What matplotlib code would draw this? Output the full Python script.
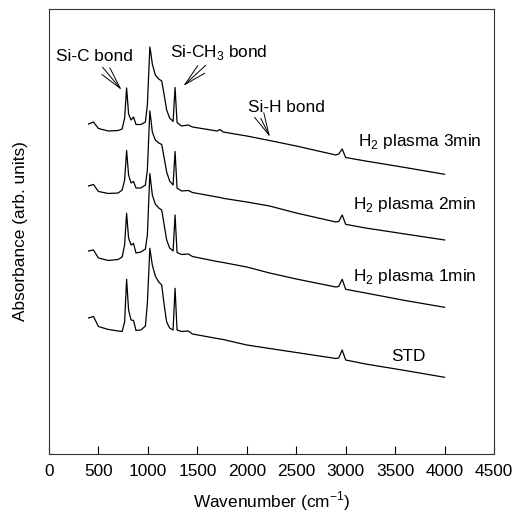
import numpy as np
import matplotlib
matplotlib.use('Agg')
import matplotlib.pyplot as plt

plt.rcParams['font.family'] = ['Liberation Sans', 'DejaVu Sans']
plt.rcParams['mathtext.fontset'] = 'custom'
plt.rcParams['mathtext.rm'] = 'Liberation Sans'

# wavenumber grid (cm-1) shared by all spectra
wavenumber = [400, 450, 500, 600, 700, 740, 765, 785, 805, 830, 855, 880, 930, 975,
              995, 1020, 1030, 1045, 1075, 1110, 1140, 1165, 1190, 1220, 1255, 1275, 1295,
              1340, 1410, 1450, 1700, 1730, 1760, 2000, 2230, 2500, 2900, 2930, 2965,
              3000, 3200, 3600, 4000]

# absorbance (arb. units, curves already offset)
abs_3min = [330, 332, 325.5, 323, 323.5, 325, 336, 366, 340, 334, 337, 329.5, 329.5, 332,
            349, 407, 401, 390, 379, 375, 373, 359, 344, 336, 332.5, 366.5, 331.5,
            328, 329, 327, 323, 324.5, 322, 318, 313.5, 308, 299, 300, 305,
            296.5, 293, 286.5, 279.7]
abs_2min = [268, 269.5, 262.5, 260.5, 261, 264, 274, 303.5, 279, 271, 272.5, 266, 266, 269,
            284, 343, 335, 322, 314, 311, 309.5, 296, 282, 273, 269, 302.5, 266,
            263, 263.5, 261.5, 257, 256.5, 255.7, 252, 248, 241, 232, 232.5, 239,
            229.7, 226, 220, 214]
abs_1min = [203, 204, 196, 193.5, 194.5, 197, 209, 240.7, 216, 209, 210.5, 201, 202, 205,
            219, 280.5, 272, 259, 250, 246, 244, 229, 214, 206, 203, 239, 201.5,
            199.5, 200, 197.5, 192.5, 192, 191.5, 187, 181, 175, 167, 167.5, 174.7,
            164.7, 161, 153.5, 146.7]
abs_std = [136, 137.5, 127.5, 124.5, 123, 122.5, 132, 174.7, 144, 134, 133.5, 123.5, 124, 128,
           151, 205.7, 199, 189, 178, 172, 169, 149, 132, 126, 124, 165.7, 124,
           122.5, 123, 120, 115.5, 115, 114.5, 109, 105.5, 101.5, 95.5, 96, 104,
           94, 90, 83.5, 76.7]

series = [abs_3min, abs_2min, abs_1min, abs_std]
labels = ['H$_2$ plasma 3min', 'H$_2$ plasma 2min', 'H$_2$ plasma 1min', 'STD']
label_pos = [(3125, 312), (3075, 249), (3075, 177), (3465, 97.5)]

fs = 12.4

fig = plt.figure(figsize=(5.15, 5.17), dpi=100)
ax = fig.add_axes([0.0951, 0.1219, 0.8641, 0.8607])

for s in series:
    ax.plot(wavenumber, s, color='black', lw=0.9)

for lab, (x, y) in zip(labels, label_pos):
    ax.text(x, y, lab, fontsize=fs, va='center', ha='left')

arrow = dict(arrowstyle='->,head_length=1.3,head_width=0.3', lw=0.7, color='black',
             shrinkA=0, shrinkB=0)
ax.annotate('Si-C bond', xy=(735, 364), xytext=(455, 397), fontsize=fs,
            ha='center', va='center', arrowprops=arrow)
ax.annotate('Si-CH$_3$ bond', xy=(1358, 368), xytext=(1720, 401), fontsize=fs,
            ha='center', va='center', arrowprops=arrow)
ax.annotate('Si-H bond', xy=(2235, 317), xytext=(2400, 346), fontsize=fs,
            ha='center', va='center', arrowprops=dict(arrow, relpos=(0.15, 0)))

ax.set_xlim(0, 4500)
ax.set_ylim(0, 445)
ax.set_xticks(np.arange(0, 4501, 500))
ax.set_yticks([])
ax.tick_params(axis='x', direction='in', length=6, width=0.8, labelsize=fs, pad=7)
for sp in ax.spines.values():
    sp.set_linewidth(0.8)
    sp.set_color('#333333')
ax.set_xlabel('Wavenumber (cm$^{-1}$)', fontsize=fs, labelpad=8)
ax.set_ylabel('Absorbance (arb. units)', fontsize=fs, labelpad=15)

fig.savefig('out.png', dpi=100)
